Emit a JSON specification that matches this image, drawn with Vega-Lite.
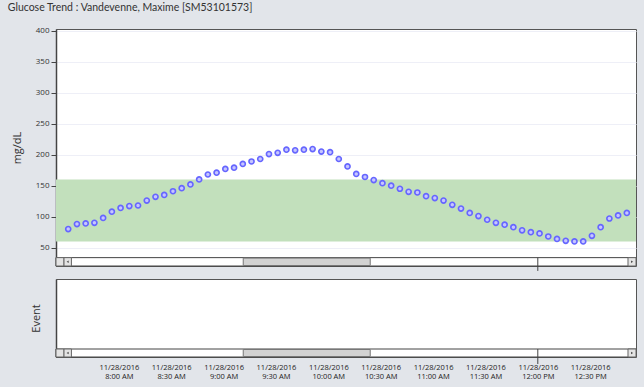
{
  "$schema": "https://vega.github.io/schema/vega-lite/v6.json",
  "padding": {"left": 7, "top": 2, "right": 9.5, "bottom": 6},
  "background": "#e2e5ea",
  "title": {"text": "Glucose Trend : Vandevenne, Maxime [SM53101573]", "anchor": "start", "fontSize": 10.5, "font": "Lato", "fontWeight": "normal", "color": "#333333", "dx": -3, "offset": 13},
  "datasets": {
    "glucose": [
      {"t": "2016-11-28T07:31:00", "v": 80}, {"t": "2016-11-28T07:36:00", "v": 88}, {"t": "2016-11-28T07:41:00", "v": 89},
      {"t": "2016-11-28T07:46:00", "v": 90}, {"t": "2016-11-28T07:51:00", "v": 98}, {"t": "2016-11-28T07:56:00", "v": 108},
      {"t": "2016-11-28T08:01:00", "v": 114}, {"t": "2016-11-28T08:06:00", "v": 117}, {"t": "2016-11-28T08:11:00", "v": 118},
      {"t": "2016-11-28T08:16:00", "v": 126}, {"t": "2016-11-28T08:21:00", "v": 132}, {"t": "2016-11-28T08:26:00", "v": 135},
      {"t": "2016-11-28T08:31:00", "v": 141}, {"t": "2016-11-28T08:36:00", "v": 146}, {"t": "2016-11-28T08:41:00", "v": 152},
      {"t": "2016-11-28T08:46:00", "v": 160}, {"t": "2016-11-28T08:51:00", "v": 168}, {"t": "2016-11-28T08:56:00", "v": 171},
      {"t": "2016-11-28T09:01:00", "v": 177}, {"t": "2016-11-28T09:06:00", "v": 179}, {"t": "2016-11-28T09:11:00", "v": 185},
      {"t": "2016-11-28T09:16:00", "v": 189}, {"t": "2016-11-28T09:21:00", "v": 193}, {"t": "2016-11-28T09:26:00", "v": 201},
      {"t": "2016-11-28T09:31:00", "v": 203}, {"t": "2016-11-28T09:36:00", "v": 208}, {"t": "2016-11-28T09:41:00", "v": 207},
      {"t": "2016-11-28T09:46:00", "v": 208}, {"t": "2016-11-28T09:51:00", "v": 209}, {"t": "2016-11-28T09:56:00", "v": 205},
      {"t": "2016-11-28T10:01:00", "v": 204}, {"t": "2016-11-28T10:06:00", "v": 193}, {"t": "2016-11-28T10:11:00", "v": 181},
      {"t": "2016-11-28T10:16:00", "v": 169}, {"t": "2016-11-28T10:21:00", "v": 164}, {"t": "2016-11-28T10:26:00", "v": 159},
      {"t": "2016-11-28T10:31:00", "v": 154}, {"t": "2016-11-28T10:36:00", "v": 150}, {"t": "2016-11-28T10:41:00", "v": 145},
      {"t": "2016-11-28T10:46:00", "v": 140}, {"t": "2016-11-28T10:51:00", "v": 139}, {"t": "2016-11-28T10:56:00", "v": 133},
      {"t": "2016-11-28T11:01:00", "v": 130}, {"t": "2016-11-28T11:06:00", "v": 126}, {"t": "2016-11-28T11:11:00", "v": 119},
      {"t": "2016-11-28T11:16:00", "v": 113}, {"t": "2016-11-28T11:21:00", "v": 106}, {"t": "2016-11-28T11:26:00", "v": 101},
      {"t": "2016-11-28T11:31:00", "v": 95}, {"t": "2016-11-28T11:36:00", "v": 90}, {"t": "2016-11-28T11:41:00", "v": 87},
      {"t": "2016-11-28T11:46:00", "v": 83}, {"t": "2016-11-28T11:51:00", "v": 78}, {"t": "2016-11-28T11:56:00", "v": 75},
      {"t": "2016-11-28T12:01:00", "v": 73}, {"t": "2016-11-28T12:06:00", "v": 68}, {"t": "2016-11-28T12:11:00", "v": 64},
      {"t": "2016-11-28T12:16:00", "v": 61}, {"t": "2016-11-28T12:21:00", "v": 60}, {"t": "2016-11-28T12:26:00", "v": 60},
      {"t": "2016-11-28T12:31:00", "v": 69}, {"t": "2016-11-28T12:36:00", "v": 83}, {"t": "2016-11-28T12:41:00", "v": 97},
      {"t": "2016-11-28T12:46:00", "v": 102}, {"t": "2016-11-28T12:51:00", "v": 106}
    ],
    "scrollTop": [
      {"part": "track", "t1": "2016-11-28T07:24:00", "t2": "2016-11-28T12:56:15", "y1": 20.4, "y2": 33.9},
      {"part": "thumb", "t1": "2016-11-28T09:11:15", "t2": "2016-11-28T10:24:00", "y1": 21.2, "y2": 33.1},
      {"part": "button", "t1": "2016-11-28T07:24:00", "t2": "2016-11-28T07:28:35", "y1": 20.4, "y2": 33.9},
      {"part": "button", "t1": "2016-11-28T07:28:35", "t2": "2016-11-28T07:32:50", "y1": 20.4, "y2": 33.9},
      {"part": "button", "t1": "2016-11-28T12:51:40", "t2": "2016-11-28T12:56:15", "y1": 20.4, "y2": 33.9}
    ],
    "scrollBottom": [
      {"part": "track", "t1": "2016-11-28T07:24:00", "t2": "2016-11-28T12:56:15", "y1": 0, "y2": 8},
      {"part": "thumb", "t1": "2016-11-28T09:11:15", "t2": "2016-11-28T10:24:00", "y1": 0.5, "y2": 7.5},
      {"part": "button", "t1": "2016-11-28T07:24:00", "t2": "2016-11-28T07:28:35", "y1": 0, "y2": 8},
      {"part": "button", "t1": "2016-11-28T07:28:35", "t2": "2016-11-28T07:32:50", "y1": 0, "y2": 8},
      {"part": "button", "t1": "2016-11-28T12:51:40", "t2": "2016-11-28T12:56:15", "y1": 0, "y2": 8}
    ],
    "arrowsTop": [
      {"t": "2016-11-28T07:30:40", "y": 27.2, "shape": "triangle-left"},
      {"t": "2016-11-28T12:54:00", "y": 27.2, "shape": "triangle-right"}
    ],
    "arrowsBottom": [
      {"t": "2016-11-28T07:30:40", "y": 4, "shape": "triangle-left"},
      {"t": "2016-11-28T12:54:00", "y": 4, "shape": "triangle-right"}
    ]
  },
  "config": {
    "view": {"stroke": "#555555", "strokeWidth": 1, "fill": "white"},
    "axis": {"labelFont": "Open Sans", "titleFont": "Open Sans", "labelColor": "#333333", "titleColor": "#333333", "titleFontWeight": "normal"},
    "axisY": {"labelOverlap": false, "labelSeparation": 0}
  },
  "vconcat": [
    {
      "width": 580,
      "height": 237,
      "encoding": {
        "y": {"type": "quantitative", "scale": {"domain": [20.4, 402.7], "nice": false, "zero": false},
          "axis": {"values": [50, 100, 150, 200, 250, 300, 350, 400], "labelOverlap": false, "title": "mg/dL", "titleFontSize": 11, "titlePadding": 13, "labelFontSize": 8, "labelPadding": 2, "tickSize": 5, "tickColor": "#444444", "domainColor": "#444444", "domainWidth": 1.5, "grid": true, "gridColor": "#eeeff7", "gridWidth": 1}}
      },
      "layer": [
        {
          "data": {"values": [{"lo": 60, "hi": 160}]},
          "mark": {"type": "rect", "color": "#c2e0bc"},
          "encoding": {
            "y": {"field": "lo", "type": "quantitative"},
            "y2": {"field": "hi"}
          }
        },
        {
          "data": {"name": "glucose"},
          "mark": {"type": "point", "filled": false, "fill": "#c6c6ff", "stroke": "#6666ff", "strokeWidth": 1.6, "size": 26, "opacity": 1},
          "encoding": {
            "x": {"field": "t", "type": "temporal", "scale": {"domain": ["2016-11-28T07:24:00", "2016-11-28T12:56:15"]}, "axis": null},
            "y": {"field": "v", "type": "quantitative"}
          }
        },
        {
          "data": {"name": "scrollTop"},
          "mark": {"type": "rect", "strokeWidth": 1},
          "encoding": {
            "x": {"field": "t1", "type": "temporal"},
            "x2": {"field": "t2"},
            "y": {"field": "y1", "type": "quantitative"},
            "y2": {"field": "y2"},
            "fill": {"field": "part", "type": "nominal", "scale": {"domain": ["track", "thumb", "button"], "range": ["#ffffff", "#d2d2d2", "#e4e4e4"]}, "legend": null},
            "stroke": {"field": "part", "type": "nominal", "scale": {"domain": ["track", "thumb", "button"], "range": ["#444444", "#777777", "#666666"]}, "legend": null}
          }
        },
        {
          "data": {"name": "arrowsTop"},
          "mark": {"type": "point", "filled": true, "color": "#111111", "size": 6},
          "encoding": {
            "x": {"field": "t", "type": "temporal"},
            "y": {"field": "y", "type": "quantitative"},
            "shape": {"field": "shape", "type": "nominal", "scale": null}
          }
        },
        {
          "data": {"values": [{"t": "2016-11-28T12:00:00", "a": 33.9, "b": 12.5}]},
          "mark": {"type": "rule", "color": "#444444", "strokeWidth": 1},
          "encoding": {
            "x": {"field": "t", "type": "temporal"},
            "y": {"field": "a", "type": "quantitative"},
            "y2": {"field": "b"}
          }
        }
      ]
    },
    {
      "width": 580,
      "height": 78,
      "layer": [
        {
          "data": {"name": "scrollBottom"},
          "mark": {"type": "rect", "strokeWidth": 1},
          "encoding": {
            "x": {"field": "t1", "type": "temporal", "scale": {"domain": ["2016-11-28T07:24:00", "2016-11-28T12:56:15"]},
              "axis": {"values": [
                {"year": 2016, "month": 11, "date": 28, "hours": 8, "minutes": 0},
                {"year": 2016, "month": 11, "date": 28, "hours": 8, "minutes": 30},
                {"year": 2016, "month": 11, "date": 28, "hours": 9, "minutes": 0},
                {"year": 2016, "month": 11, "date": 28, "hours": 9, "minutes": 30},
                {"year": 2016, "month": 11, "date": 28, "hours": 10, "minutes": 0},
                {"year": 2016, "month": 11, "date": 28, "hours": 10, "minutes": 30},
                {"year": 2016, "month": 11, "date": 28, "hours": 11, "minutes": 0},
                {"year": 2016, "month": 11, "date": 28, "hours": 11, "minutes": 30},
                {"year": 2016, "month": 11, "date": 28, "hours": 12, "minutes": 0},
                {"year": 2016, "month": 11, "date": 28, "hours": 12, "minutes": 30}
              ],
              "labelExpr": "[timeFormat(datum.value, '%m/%d/%Y'), timeFormat(datum.value, '%-I:%M %p')]",
              "labelFontSize": 7.5, "labelLineHeight": 9.5, "labelPadding": 6, "labelColor": "#222222", "ticks": false, "domain": false, "grid": false, "title": null}},
            "x2": {"field": "t2"},
            "y": {"field": "y1", "type": "quantitative", "scale": {"domain": [0, 78], "nice": false},
              "axis": {"labels": false, "ticks": false, "grid": false, "domainColor": "#444444", "domainWidth": 1.5, "title": "Event", "titleFontSize": 11, "titlePadding": 14.5}},
            "y2": {"field": "y2"},
            "fill": {"field": "part", "type": "nominal", "scale": {"domain": ["track", "thumb", "button"], "range": ["#ffffff", "#d2d2d2", "#e4e4e4"]}, "legend": null},
            "stroke": {"field": "part", "type": "nominal", "scale": {"domain": ["track", "thumb", "button"], "range": ["#444444", "#777777", "#666666"]}, "legend": null}
          }
        },
        {
          "data": {"name": "arrowsBottom"},
          "mark": {"type": "point", "filled": true, "color": "#111111", "size": 6},
          "encoding": {
            "x": {"field": "t", "type": "temporal"},
            "y": {"field": "y", "type": "quantitative"},
            "shape": {"field": "shape", "type": "nominal", "scale": null}
          }
        },
        {
          "data": {"values": [{"t": "2016-11-28T12:00:00", "a": 8, "b": -7}]},
          "mark": {"type": "rule", "color": "#444444", "strokeWidth": 1},
          "encoding": {
            "x": {"field": "t", "type": "temporal"},
            "y": {"field": "a", "type": "quantitative"},
            "y2": {"field": "b"}
          }
        }
      ]
    }
  ],
  "spacing": 6
}
